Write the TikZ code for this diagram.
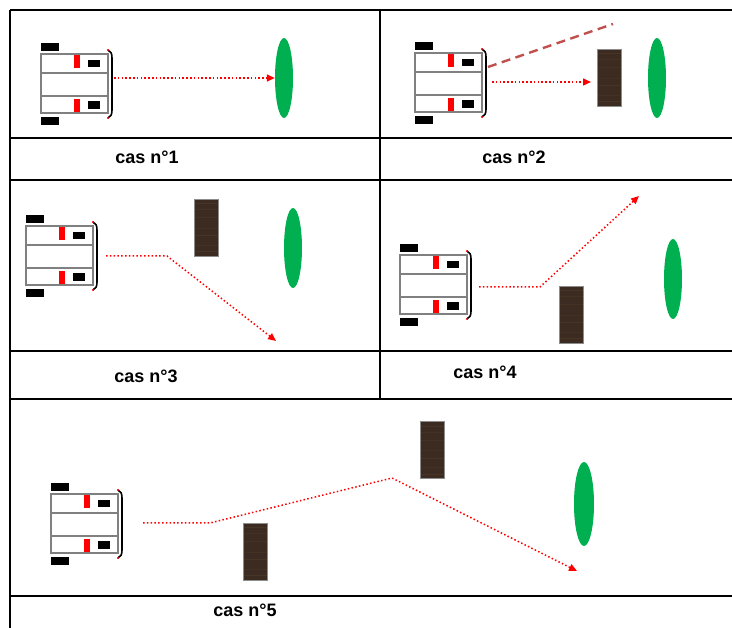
\documentclass[tikz,border=0pt]{standalone}
\usepackage{fontspec}
\setmainfont{Liberation Sans}
\usetikzlibrary{arrows.meta,shapes.geometric,calc}

\definecolor{wood}{RGB}{60,43,32}
\definecolor{woodgrain}{RGB}{96,74,52}
\definecolor{leaf}{RGB}{0,176,80}
\definecolor{laser}{RGB}{192,80,77}
\definecolor{trace}{RGB}{255,0,0}
\definecolor{frame}{RGB}{128,128,128}

\begin{document}
\begin{tikzpicture}[x=1pt,y=-1pt,
  grid/.style={draw=black, line width=1.1pt},
  target/.style={ellipse, fill=leaf, draw=none, inner sep=0pt,
    minimum width=18pt, minimum height=80pt},
  obstacle/.style={rectangle, fill=wood, draw=black!45, line width=0.6pt,
    inner sep=0pt, minimum width=24pt, minimum height=57pt,
    path picture={
      \foreach \f/\o in {0.08/0.3,0.19/0.2,0.33/0.25,0.51/0.18,0.64/0.3,0.81/0.2,0.92/0.35}
        \draw[woodgrain, opacity=\o, line width=0.8pt]
          ($(path picture bounding box.north west)!\f!(path picture bounding box.south west)$) --
          ($(path picture bounding box.north east)!\f!(path picture bounding box.south east)$);
    }},
  pathline/.style={trace, line width=1.5pt, dash pattern=on 1.5pt off 2.3pt},
  tip/.style={-{Triangle[length=8pt,width=7pt]}},
  scanline/.style={laser, line width=2.4pt, dash pattern=on 9pt off 5.5pt},
  caption/.style={font=\bfseries\fontsize{18}{18}\selectfont, inner sep=0pt},
  robot/.pic={
    % wheels
    \fill[black] (0,-11) rectangle (18,-3);
    \fill[black] (0,63) rectangle (18,71);
    % chassis
    \draw[frame, fill=white, line width=1.3pt] (0,0) rectangle (67,59);
    \draw[frame, line width=1.3pt] (0,19) -- (67,19) (0,42) -- (67,42);
    % sensors
    \fill[red] (33,1) rectangle (39,14);
    \fill[red] (33,45) rectangle (39,58);
    \fill[black] (47,6) rectangle (59,13);
    \fill[black] (47,47) rectangle (59,55);
    % front bumper
    \draw[black, line width=1.6pt] (67,-4) .. controls (70,-3) and (71,0) .. (71,4)
      -- (71,56) .. controls (71,60) and (70,63) .. (67,64);
    \fill[red] (67,-4) circle (1.1pt);
    \fill[red] (67,64) circle (1.1pt);
  }
]
\useasboundingbox (0,0) rectangle (732,628);

% table frame
\draw[grid] (10,10) -- (732,10);
\draw[grid] (10,138) -- (732,138);
\draw[grid] (10,180) -- (732,180);
\draw[grid] (10,351) -- (732,351);
\draw[grid] (10,399) -- (732,399);
\draw[grid] (10,596) -- (732,596);
\draw[grid] (10,10) -- (10,628);
\draw[grid] (380,10) -- (380,399);

% ---- case 1
\pic at (41,54) {robot};
\node[target] (t1) at (284,78) {};
\coordinate (s1) at (114,78);
\draw[pathline, tip] (s1) -- (t1.west);
\node[caption] (c1) at (147,157) {cas n°1};

% ---- case 2
\pic at (415,53) {robot};
\node[target] (t2) at (657,78) {};
\node[obstacle] (o2) at (609,77.5) {};
\coordinate (s2) at (492,82);
\coordinate (e2) at (591,82);
\draw[pathline, tip] (s2) -- (e2);
\coordinate (l2a) at (488,67);
\coordinate (l2b) at (613,24);
\draw[scanline] (l2a) -- (l2b);
\node[caption] (c2) at (514,157) {cas n°2};

% ---- case 3
\pic at (26,226) {robot};
\node[target] (t3) at (293,248) {};
\node[obstacle] (o3) at (206,227.5) {};
\coordinate (s3) at (106,256);
\coordinate (b3) at (167,256);
\coordinate (e3) at (276,341);
\draw[pathline, tip] (s3) -- (b3) -- (e3);
\node[caption] (c3) at (146,376) {cas n°3};

% ---- case 4
\pic at (400,255) {robot};
\node[target] (t4) at (673,279) {};
\node[obstacle] (o4) at (571,314.5) {};
\coordinate (s4) at (479,287);
\coordinate (b4) at (540,287);
\coordinate (e4) at (639,196);
\draw[pathline, tip] (s4) -- (b4) -- (e4);
\node[caption] (c4) at (485,372) {cas n°4};

% ---- case 5
\pic at (51,494) {robot};
\node[target, minimum height=84pt, minimum width=20pt] (t5) at (584,504) {};
\node[obstacle] (o5a) at (255.5,551.5) {};
\node[obstacle] (o5b) at (432,450) {};
\coordinate (s5) at (143,523);
\coordinate (b5) at (210,523);
\coordinate (p5) at (392,478);
\coordinate (e5) at (577,571);
\draw[pathline, tip] (s5) -- (b5) -- (p5) -- (e5);
\node[caption] (c5) at (245,610) {cas n°5};

\end{tikzpicture}
\end{document}
